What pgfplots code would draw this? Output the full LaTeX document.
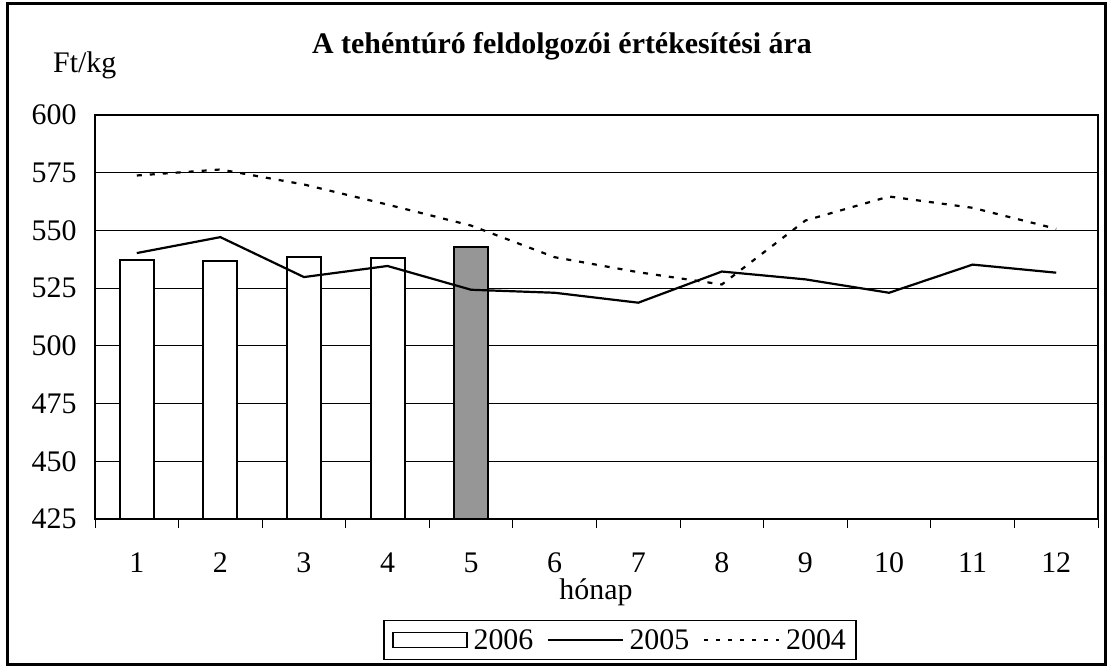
\documentclass[border=0pt]{standalone}
\usepackage{fontspec}
\setmainfont{Liberation Serif}
\usepackage{pgfplots}
\pgfplotsset{compat=1.18}
\definecolor{bargray}{RGB}{150,150,150}
\begin{document}
\begin{tikzpicture}
\path[use as bounding box] (0bp,0bp) rectangle (1109bp,-667bp);
\draw[line width=2.5bp] (7.5bp,-3.5bp) rectangle (1105.5bp,-664.5bp);
\begin{axis}[
  at={(95bp,-519bp)}, anchor=south west,
  scale only axis, width=1003bp, height=404bp,
  xmin=0.5, xmax=12.5, ymin=425, ymax=600,
  xtick={1,...,12},
  xticklabels={1,2,3,4,5,6,7,8,9,10,11,12},
  minor xtick={0.5,1.5,...,12.5},
  ytick={425,450,...,600},
  tick pos=left,
  tick align=outside,
  major tick length=0pt,
  minor tick length=9bp,
  minor tick style={line width=1bp, black},
  ymajorgrids,
  grid style={line width=1bp, black},
  axis line style={line width=1.5bp, black},
  /pgf/number format/assume math mode=true,
  ticklabel style={font=\fontsize{30}{34}\selectfont},
  yticklabel style={xshift=-15bp},
  xticklabel style={anchor=base, yshift=-53bp},
  legend columns=3,
  legend style={at={(0.5234,-0.2995)}, anchor=center,
    draw=black, line width=1.5bp,
    font=\fontsize{30}{34}\selectfont,
    nodes={inner sep=2bp},
    inner xsep=8bp, inner ysep=7bp,
    /tikz/every odd column/.append style={column sep=4bp},
    /tikz/every even column/.append style={column sep=12bp}},
]
\addplot[ybar, bar width=34bp, bar shift=0pt, fill=white, draw=black, line width=2bp,
  legend image code/.code={\draw[black, line width=1.5bp, fill=white] (0bp,-7.5bp) rectangle (74bp,7.5bp);}]
  coordinates {(1,537.0) (2,536.6) (3,538.3) (4,538.0)};
\addlegendentry{2006}
\addplot[ybar, bar width=34bp, bar shift=0pt, fill=bargray, draw=black, line width=2bp, forget plot]
  coordinates {(5,542.8)};
\addplot[black, line width=2.2bp,
  legend image code/.code={\draw[black, line width=1.2bp] (0bp,0bp) -- (75bp,0bp);}]
  coordinates {(1,540.2) (2,547.1) (3,529.8) (4,534.6) (5,524.3) (6,523.0) (7,518.7) (8,532.2) (9,528.8) (10,523.0) (11,535.2) (12,531.7)};
\addlegendentry{2005}
\addplot[black, line width=2.2bp, dash pattern=on 5bp off 8bp,
  legend image code/.code={\draw[black, line width=1.8bp, dash pattern=on 4bp off 8bp] (0bp,0bp) -- (75bp,0bp);}]
  coordinates {(1,573.8) (2,576.4) (3,569.9) (4,561.2) (5,552.1) (6,538.4) (7,531.9) (8,526.6) (9,554.3) (10,564.7) (11,559.8) (12,550.7)};
\addlegendentry{2004}
\end{axis}
\node[anchor=base, font=\fontsize{30}{34}\selectfont\bfseries, inner sep=0pt] at (562bp,-53bp) {A tehéntúró feldolgozói értékesítési ára};
\node[anchor=base west, font=\fontsize{30}{34}\selectfont, inner sep=0pt] at (53bp,-72bp) {Ft/kg};
\node[anchor=base, font=\fontsize{30}{34}\selectfont, inner sep=0pt] at (596bp,-599bp) {hónap};
\end{tikzpicture}
\end{document}
